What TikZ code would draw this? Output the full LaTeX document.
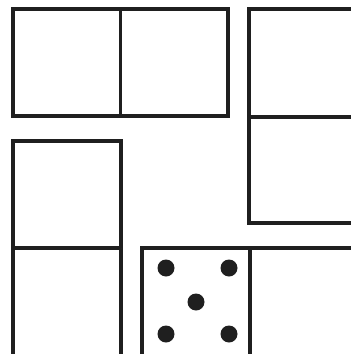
\documentclass[tikz,border=0pt]{standalone}
\begin{document}
\begin{tikzpicture}[x=1pt,y=-1pt,
  tile/.style={draw=black!88,line width=3.1pt,fill=white},
  pip/.style={fill=black!88}]
\useasboundingbox (0,0) rectangle (351,354);
\clip (0,0) rectangle (351,354);
% top-left horizontal domino
\draw[tile] (13,9) rectangle (228,116);
\draw[tile] (120.5,9) -- (120.5,116);
% right vertical domino
\draw[tile] (249,9) rectangle (365,223);
\draw[tile] (249,117) -- (365,117);
% left vertical domino
\draw[tile] (13,141) rectangle (121,365);
\draw[tile] (13,248) -- (121,248);
% bottom domino with pips
\draw[tile] (142,248) rectangle (365,365);
\draw[tile] (250,248) -- (250,365);
\foreach \p in {(166,268),(229,268),(196,302),(166,334),(229,334)}
  \fill[pip] \p circle (8.5);
\end{tikzpicture}
\end{document}
